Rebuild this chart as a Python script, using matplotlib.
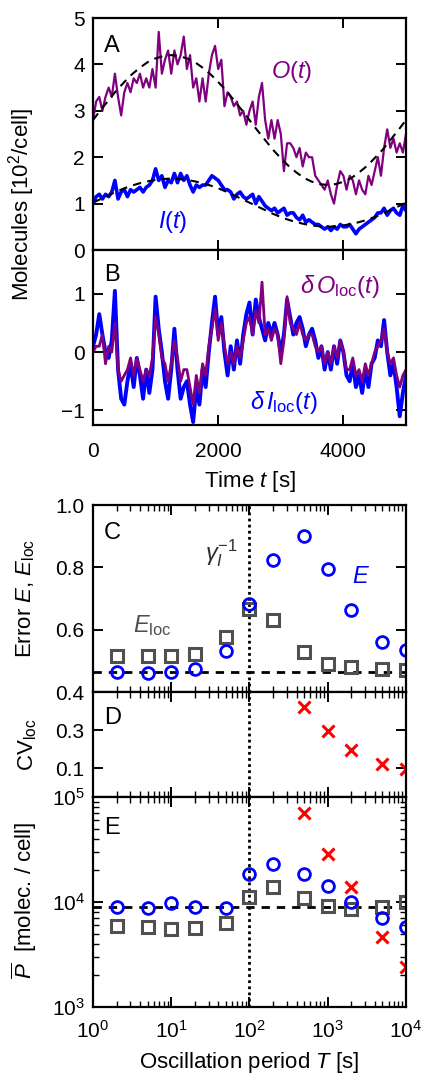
import numpy as np
import matplotlib
matplotlib.use("Agg")
import matplotlib.pyplot as plt

plt.rcParams['font.family'] = ['Liberation Sans', 'DejaVu Sans']
plt.rcParams['mathtext.fontset'] = 'custom'
plt.rcParams['mathtext.rm'] = 'Liberation Sans'
plt.rcParams['mathtext.it'] = 'Liberation Sans:italic'
plt.rcParams['mathtext.bf'] = 'Liberation Sans:bold'
plt.rcParams['font.size'] = 15
plt.rcParams['axes.linewidth'] = 1.6

# ---------------- data: time traces (t in s, values in 10^2 molecules/cell) -------------
t_trace = np.arange(0, 5001, 50)
O_trace = [2.8, 3.2, 3.3, 3.0, 3.3, 3.5, 3.3, 3.8, 3.3, 2.9,
           3.4, 3.6, 3.4, 3.7, 3.6, 3.8, 3.5, 3.7, 3.5, 3.9,
           3.5, 4.7, 3.8, 4.1, 4.3, 3.8, 4.3, 4.0, 4.2, 4.6,
           3.9, 4.2, 3.5, 3.7, 3.2, 3.7, 3.2, 3.8, 4.2, 4.4,
           3.9, 4.1, 3.1, 3.4, 3.3, 3.1, 3.2, 2.9, 3.0, 2.7,
           3.0, 3.2, 2.7, 3.3, 3.6, 2.8, 2.4, 2.8, 2.4, 2.8,
           2.5, 1.7, 2.3, 2.3, 2.2, 2.0, 2.2, 1.8, 2.1, 2.0,
           2.0, 1.6, 1.5, 1.4, 1.3, 1.5, 1.2, 1.0, 1.4, 1.7,
           1.6, 1.3, 1.6, 1.5, 1.2, 1.5, 1.3, 1.2, 1.6, 1.4,
           1.7, 2.0, 1.6, 2.2, 2.6, 2.2, 2.4, 2.1, 2.3, 2.1, 2.5]
I_trace = [1.0, 1.15, 1.2, 1.1, 1.2, 1.15, 1.25, 1.5, 1.1, 1.25,
           1.3, 1.15, 1.3, 1.25, 1.3, 1.35, 1.25, 1.35, 1.4, 1.5,
           1.75, 1.5, 1.6, 1.35, 1.5, 1.45, 1.65, 1.45, 1.65, 1.5,
           1.6, 1.4, 1.25, 1.4, 1.35, 1.4, 1.4, 1.5, 1.6, 1.55,
           1.5, 1.4, 1.3, 1.3, 1.25, 1.1, 1.2, 1.25, 1.15, 1.1,
           1.15, 1.2, 1.0, 1.15, 1.05, 0.95, 0.9, 0.85, 0.9, 0.8,
           0.85, 0.9, 0.75, 0.8, 0.8, 0.7, 0.65, 0.75, 0.6, 0.65,
           0.6, 0.55, 0.55, 0.5, 0.45, 0.5, 0.42, 0.5, 0.45, 0.55,
           0.5, 0.5, 0.55, 0.45, 0.35, 0.45, 0.5, 0.55, 0.6, 0.65,
           0.7, 0.8, 0.8, 0.9, 0.75, 0.85, 0.9, 0.8, 0.75, 0.95, 0.85]
dI_loc = [0.1, 0.3, 0.65, 0.3, 0.0, -0.1, 0.2, 1.05, -0.3, -0.8,
          -0.9, -0.5, -0.2, -0.6, -0.1, -0.4, -0.8, -0.3, -0.7, -0.3,
          0.95, 0.4, 0.0, -0.5, -0.8, -0.3, 0.4, -0.3, -0.8, -0.6,
          -0.5, -0.9, -1.2, -0.6, -0.9, -0.3, -0.6, 0.0, 0.5, 0.95,
          0.3, 0.6, 0.0, -0.4, 0.1, -0.3, 0.2, -0.2, 0.3, 0.65,
          0.85, 0.3, 0.9, 0.6, 0.4, 0.2, 0.5, 0.3, 0.5, 0.3,
          0.0, 0.3, 0.9, 0.6, 0.3, 0.5, 0.6, 0.4, 0.1, 0.3,
          0.4, 0.2, -0.1, 0.1, -0.3, 0.0, -0.3, 0.1, -0.2, 0.2,
          0.0, -0.4, -0.5, -0.2, -0.6, -0.4, -0.7, -0.3, -0.6, -0.2,
          -0.1, 0.2, 0.1, 0.55, 0.0, -0.4, -0.2, -0.6, -1.1, -0.7, -0.4]
dO_loc = [0.0, 0.1, 0.1, 0.3, -0.2, 0.1, 0.0, 0.5, -0.3, -0.5,
          -0.4, -0.3, -0.1, -0.4, -0.1, -0.3, -0.5, -0.3, -0.4, -0.1,
          0.6, 0.3, -0.1, -0.2, -0.5, -0.2, 0.2, -0.1, -0.5, -0.3,
          -0.3, -0.6, -0.9, -0.4, -0.7, -0.2, -0.4, 0.1, 0.4, 0.75,
          0.2, 0.5, 0.1, -0.2, 0.0, -0.2, 0.1, -0.1, 0.2, 0.5,
          0.6, 0.3, 0.7, 0.5, 1.2, 0.3, 0.4, 0.2, 0.4, 0.3,
          -0.2, 0.2, 0.95, 0.5, 0.4, 0.3, 0.5, 0.3, 0.2, 0.3,
          0.3, 0.1, 0.0, 0.1, -0.2, 0.0, -0.2, 0.1, -0.1, 0.2,
          0.0, -0.3, -0.3, -0.1, -0.4, -0.3, -0.5, -0.2, -0.4, -0.2,
          0.0, 0.1, 0.2, 0.4, 0.0, -0.2, -0.1, -0.4, -0.6, -0.4, -0.3]

# deterministic (mean) oscillations, sampled every 125 s
t_det = np.arange(0, 5001, 125)
O_det = [2.80, 3.02, 3.23, 3.44, 3.62, 3.79, 3.93, 4.05, 4.13, 4.18, 4.20,
         4.18, 4.13, 4.05, 3.93, 3.79, 3.62, 3.44, 3.23, 3.02, 2.80,
         2.58, 2.37, 2.16, 1.98, 1.81, 1.67, 1.55, 1.47, 1.42, 1.40,
         1.42, 1.47, 1.55, 1.67, 1.81, 1.98, 2.16, 2.37, 2.58, 2.80]
I_det = [1.02, 1.10, 1.18, 1.26, 1.33, 1.39, 1.44, 1.48, 1.51, 1.53, 1.54,
         1.53, 1.51, 1.48, 1.44, 1.39, 1.33, 1.26, 1.18, 1.10, 1.02,
         0.94, 0.86, 0.78, 0.71, 0.65, 0.60, 0.56, 0.53, 0.51, 0.50,
         0.51, 0.53, 0.56, 0.60, 0.65, 0.71, 0.78, 0.86, 0.94, 1.02]

# ---------------- data: period scan ----------------
T_period = [2, 5, 10, 20, 50, 100, 200, 500, 1000, 2000, 5000, 10000]
E_err = [0.463, 0.461, 0.464, 0.474, 0.533, 0.682, 0.824, 0.899, 0.794, 0.662, 0.562, 0.536]
E_loc = [0.514, 0.517, 0.515, 0.523, 0.578, 0.667, 0.632, 0.528, 0.490, 0.480, 0.475, 0.469]
E_static = 0.464
T_cv = [500, 1000, 2000, 5000, 10000]
CV_loc = [0.423, 0.296, 0.194, 0.124, 0.098]
P_E = [9010, 8710, 9730, 9010, 8710, 18500, 23000, 18500, 14200, 10070, 7000, 5820]
P_Eloc = [5900, 5740, 5530, 5620, 6350, 11070, 13800, 10840, 9160, 8510, 9010, 10070]
P_cv = [70000, 28400, 13800, 4610, 2390]
P_static = 9000
T_gamma = 100

purple = '#800080'
blue = '#0000ff'
gray = '#505050'
red = '#ff0000'

W, H = 427, 1084
fig = plt.figure(figsize=(W / 100, H / 100), dpi=100)

def box(top, bottom, left=93, right=406):
    return [left / W, 1 - bottom / H, (right - left) / W, (bottom - top) / H]

axA = fig.add_axes(box(18, 250))
axB = fig.add_axes(box(250, 425))
axC = fig.add_axes(box(505, 692))
axD = fig.add_axes(box(692, 797))
axE = fig.add_axes(box(797, 1007))

for ax in (axA, axB, axC, axD, axE):
    ax.tick_params(which='major', direction='in', top=True, right=True,
                   length=7, width=1.4, labelsize=15, pad=6)
    ax.tick_params(which='minor', direction='in', top=True, right=True,
                   length=4, width=1.0)

# Panel A
axA.plot(t_trace, O_trace, color=purple, lw=1.6)
axA.plot(t_trace, I_trace, color=blue, lw=2.6)
axA.plot(t_det, O_det, color='black', lw=1.5, ls=(0, (4, 3)))
axA.plot(t_det, I_det, color='black', lw=1.5, ls=(0, (4, 3)))
axA.set_xlim(0, 5000)
axA.set_ylim(0, 5)
axA.set_yticks([0, 1, 2, 3, 4, 5])
axA.set_xticks([0, 2000, 4000])
axA.tick_params(labelbottom=False)
axA.text(0.035, 0.88, 'A', transform=axA.transAxes, fontsize=17, va='center', ha='left')
axA.text(0.636, 0.767, r'$O(t)$', transform=axA.transAxes, color=purple, fontsize=17,
         va='center', ha='center')
axA.text(0.256, 0.121, r'$I(t)$', transform=axA.transAxes, color=blue, fontsize=17,
         va='center', ha='center')

# Panel B
axB.plot(t_trace, dI_loc, color=blue, lw=2.8)
axB.plot(t_trace, dO_loc, color=purple, lw=2.0)
axB.set_xlim(0, 5000)
axB.set_ylim(-1.25, 1.75)
axB.set_yticks([-1, 0, 1])
axB.set_yticklabels(['\u22121', '0', '1'])
axB.set_xticks([0, 2000, 4000])
axB.tick_params(axis='x', pad=12)
axB.set_xlabel(r'Time $t$ [s]', fontsize=16, labelpad=6)
axB.text(0.035, 0.857, 'B', transform=axB.transAxes, fontsize=17, va='center', ha='left')
axB.text(0.789, 0.789, r'$\delta\, O_{\mathrm{loc}}(t)$', transform=axB.transAxes,
         color=purple, fontsize=17, va='center', ha='center')
axB.text(0.61, 0.126, r'$\delta\, I_{\mathrm{loc}}(t)$', transform=axB.transAxes,
         color=blue, fontsize=17, va='center', ha='center')

fig.text(22 / W, 1 - 205 / H, r'Molecules [10$^2$/cell]', rotation=90,
         fontsize=16, ha='center', va='center')

# Panel C
for ax in (axC, axD, axE):
    ax.set_xscale('log')
    ax.set_xlim(1, 1e4)
    ax.axvline(T_gamma, color='black', lw=2.0, ls=(0, (1, 1.2)))
axC.axhline(E_static, color='black', lw=2.0, ls=(0, (3, 2.5)))
axC.plot(T_period, E_loc, ls='none', marker='s', ms=8.5, mfc='none', mec=gray, mew=2.2)
axC.plot(T_period, E_err, ls='none', marker='o', ms=8.5, mfc='none', mec=blue, mew=2.0)
axC.set_ylim(0.4, 1.0)
axC.set_yticks([0.4, 0.6, 0.8, 1.0])
axC.set_yticklabels(['0.4', '0.6', '0.8', '1.0'])
axC.tick_params(labelbottom=False)
axC.text(0.035, 0.85, 'C', transform=axC.transAxes, fontsize=17, va='center', ha='left')
axC.text(0.41, 0.745, r'$\gamma_I^{-1}$', transform=axC.transAxes, fontsize=17,
         va='center', ha='center', color='#303030')
axC.text(0.856, 0.615, r'$E$', transform=axC.transAxes, fontsize=17, color=blue,
         va='center', ha='center')
axC.text(0.188, 0.353, r'$E_{\mathrm{loc}}$', transform=axC.transAxes, fontsize=17,
         color=gray, va='center', ha='center')
fig.text(26 / W, 1 - 598 / H, r'Error $E$, $E_{\mathrm{loc}}$', rotation=90,
         fontsize=16, ha='center', va='center')

# Panel D
axD.plot(T_cv, CV_loc, ls='none', marker='x', ms=8, mec=red, mew=2.2)
axD.set_ylim(-0.05, 0.5)
axD.set_yticks([0.1, 0.3])
axD.set_yticklabels(['0.1', '0.3'])
axD.tick_params(labelbottom=False)
axD.text(0.035, 0.75, 'D', transform=axD.transAxes, fontsize=17, va='center', ha='left')
fig.text(28 / W, 1 - 745 / H, r'CV$_{\mathrm{loc}}$', rotation=90,
         fontsize=16, ha='center', va='center')

# Panel E
axE.set_yscale('log')
axE.axhline(P_static, color='black', lw=2.0, ls=(0, (3, 2.5)))
axE.plot(T_period, P_Eloc, ls='none', marker='s', ms=8.5, mfc='none', mec=gray, mew=2.2)
axE.plot(T_period, P_E, ls='none', marker='o', ms=8.5, mfc='none', mec=blue, mew=2.0)
axE.plot(T_cv, P_cv, ls='none', marker='x', ms=8, mec=red, mew=2.2)
axE.set_ylim(1e3, 1e5)
axE.set_xticks([1, 10, 100, 1000, 10000])
axE.tick_params(axis='x', which='major', pad=9)
axE.set_xlabel(r'Oscillation period $T$ [s]', fontsize=16, labelpad=6)
axE.text(0.035, 0.85, 'E', transform=axE.transAxes, fontsize=17, va='center', ha='left')
fig.text(24 / W, 1 - 900 / H, r'$\overline{P}$  [molec. / cell]', rotation=90,
         fontsize=16, ha='center', va='center')

fig.savefig('out.png', dpi=100)
